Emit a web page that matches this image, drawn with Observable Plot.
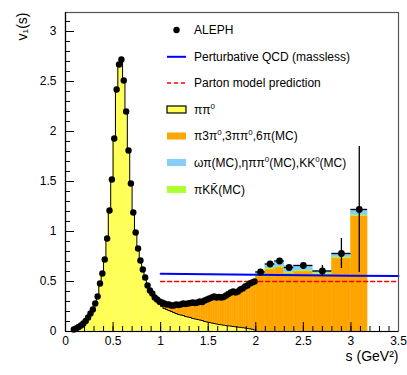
<!DOCTYPE html>
<html>
<head>
<meta charset="utf-8">
<script src="https://cdn.jsdelivr.net/npm/d3@7"></script>
<script src="https://cdn.jsdelivr.net/npm/@observablehq/plot@0.6"></script>
<style>
html,body{margin:0;padding:0;background:#fff;}
#chart svg{display:block;}
</style>
</head>
<body>
<div id="chart"></div>
<script>
// ---------- data ----------
const binWidth = 0.025;

// ALEPH fine-binned points (bin centres, v1)
const alephS = [0.0875,0.1125,0.1375,0.1625,0.1875,0.2125,0.2375,0.2625,0.2875,0.3125,0.3375,0.3625,0.3875,0.4125,0.4375,0.4625,0.4875,0.5125,0.5375,0.5625,0.5875,0.6125,0.6375,0.6625,0.6875,0.7125,0.7375,0.7625,0.7875,0.8125,0.8375,0.8625,0.8875,0.9125,0.9375,0.9625,0.9875,
1.0125,1.0375,1.0625,1.0875,1.1125,1.1375,1.1625,1.1875,1.2125,1.2375,1.2625,1.2875,1.3125,1.3375,1.3625,1.3875,1.4125,1.4375,1.4625,1.4875,1.5125,1.5375,1.5625,1.5875,1.6125,1.6375,1.6625,1.6875,1.7125,1.7375,1.7625,1.7875,1.8125,1.8375,1.8625,1.8875,1.9125,1.9375,1.9625,1.9875];
const alephV = [0.02,0.03,0.045,0.06,0.08,0.105,0.14,0.18,0.22,0.28,0.35,0.48,0.58,0.72,0.93,1.21,1.52,1.93,2.42,2.67,2.72,2.51,2.20,1.81,1.48,1.19,0.99,0.83,0.71,0.62,0.54,0.46,0.41,0.38,0.34,0.32,0.30,
0.29,0.28,0.27,0.27,0.26,0.26,0.27,0.265,0.27,0.28,0.275,0.28,0.285,0.29,0.285,0.29,0.30,0.295,0.31,0.32,0.33,0.34,0.35,0.34,0.345,0.34,0.345,0.36,0.375,0.39,0.40,0.39,0.40,0.42,0.43,0.45,0.46,0.48,0.49,0.50];

// pi pi0 histogram on the same fine bins
const pipiV = [0.02,0.03,0.045,0.06,0.08,0.105,0.14,0.18,0.22,0.28,0.35,0.48,0.58,0.72,0.93,1.21,1.52,1.93,2.42,2.67,2.72,2.51,2.20,1.81,1.48,1.19,0.99,0.83,0.71,0.62,0.54,0.46,0.41,0.36,0.33,0.30,0.27,
0.25,0.23,0.22,0.21,0.20,0.19,0.18,0.17,0.165,0.16,0.15,0.145,0.14,0.13,0.125,0.12,0.115,0.11,0.10,0.095,0.09,0.085,0.08,0.075,0.07,0.067,0.063,0.06,0.057,0.054,0.05,0.047,0.044,0.041,0.038,0.035,0.031,0.027,0.022,0.015];

// MC fine bins 0.9 - 2.0 GeV^2
const mcS = [0.9125,0.9375,0.9625,0.9875,1.0125,1.0375,1.0625,1.0875,1.1125,1.1375,1.1625,1.1875,1.2125,1.2375,1.2625,1.2875,1.3125,1.3375,1.3625,1.3875,1.4125,1.4375,1.4625,1.4875,1.5125,1.5375,1.5625,1.5875,1.6125,1.6375,1.6625,1.6875,1.7125,1.7375,1.7625,1.7875,1.8125,1.8375,1.8625,1.8875,1.9125,1.9375,1.9625,1.9875];
const mcOrange = [0.01,0.01,0.015,0.025,0.03,0.04,0.04,0.05,0.05,0.055,0.075,0.08,0.09,0.105,0.11,0.118,0.128,0.143,0.143,0.15,0.165,0.165,0.19,0.205,0.212,0.227,0.242,0.237,0.245,0.243,0.252,0.27,0.286,0.304,0.318,0.308,0.321,0.344,0.357,0.377,0.391,0.413,0.428,0.445];
const mcGreen = [0,0,0,0,0,0,0,0,0,0,0,0,0,0,0,0,0,0,0,0,0,0,0,0,0.005,0.005,0.005,0.005,0.005,0.005,0.005,0.005,0.005,0.005,0.005,0.005,0.005,0.005,0.005,0.005,0.005,0.005,0.005,0.005];
const mcBlue = [0,0,0,0,0.005,0.005,0.005,0.005,0.005,0.01,0.01,0.01,0.01,0.01,0.01,0.012,0.012,0.012,0.012,0.015,0.015,0.015,0.015,0.015,0.018,0.018,0.018,0.018,0.02,0.02,0.02,0.02,0.022,0.022,0.022,0.025,0.025,0.025,0.025,0.028,0.028,0.03,0.03,0.03];

// coarse bins above 2 GeV^2
const coarseLo = [2.0, 2.1, 2.2, 2.3, 2.4, 2.6, 2.8, 3.0];
const coarseHi = [2.1, 2.2, 2.3, 2.4, 2.6, 2.8, 3.0, 3.175];
const coarseS = [2.05, 2.15, 2.25, 2.35, 2.5, 2.7, 2.9, 3.0875];
const coarseV = [0.595, 0.675, 0.705, 0.64, 0.66, 0.605, 0.78, 1.22];
const coarseErr = [0.015, 0.02, 0.02, 0.02, 0.02, 0.055, 0.15, 0.63];
const coarseOrange = [0.56, 0.62, 0.64, 0.58, 0.60, 0.575, 0.735, 1.155];
const coarseGreen = [0.01, 0.01, 0.01, 0.01, 0.01, 0.01, 0.01, 0.01];
const coarseBlue = [0.025, 0.045, 0.055, 0.065, 0.05, 0.02, 0.035, 0.055];

// theory curves
const qcdS = [1.0, 1.5, 2.0, 2.5, 3.0, 3.5];
const qcdV = [0.578, 0.572, 0.567, 0.562, 0.558, 0.555];
const partonS = [1.0, 3.5];
const partonV = [0.5, 0.5];

// axes
const xMajor = [0, 0.5, 1, 1.5, 2, 2.5, 3, 3.5];
const xLabels = ["0", "0.5", "1", "1.5", "2", "2.5", "3", "3.5"];
const yMajor = [0, 0.5, 1, 1.5, 2, 2.5, 3];
const yLabels = ["0", "0.5", "1", "1.5", "2", "2.5", "3"];

// series / legend
const seriesKeys = ["pipi", "orange", "green", "blue"];
const seriesColors = ["#ffff55", "#ffa500", "#adff2f", "#87cefa"];
const legendLabels = ["ALEPH", "Perturbative QCD (massless)", "Parton model prediction", "ππ^0", "π3π^0,3ππ^0,6π(MC)", "ωπ(MC),ηππ^0(MC),KK^0(MC)", "πKK\u0304(MC)"];
const legendKinds = ["dot", "line", "dash", "box", "fill", "fill", "fill"];
const legendColors = ["#000", "#0000ff", "#ff0000", "#ffff55", "#ffa500", "#87cefa", "#adff2f"];

// ---------- build tables ----------
const W = 407, H = 375;
const M = {top: 12, right: 9, bottom: 44, left: 65};
const plotW = W - M.left - M.right, plotH = H - M.top - M.bottom;
const FONT = "'Liberation Sans', Arial, Helvetica, sans-serif";

const hist = [];
alephS.forEach((s, i) => hist.push({x1: s - binWidth / 2, x2: s + binWidth / 2, v: pipiV[i], series: "pipi"}));
const addMC = (fine, coarse, key) => {
  mcS.forEach((s, i) => hist.push({x1: s - binWidth / 2, x2: s + binWidth / 2, v: fine[i], series: key}));
  coarseLo.forEach((lo, i) => hist.push({x1: lo, x2: coarseHi[i], v: coarse[i], series: key}));
};
addMC(mcOrange, coarseOrange, "orange");
addMC(mcGreen, coarseGreen, "green");
addMC(mcBlue, coarseBlue, "blue");

const outline = [{x: alephS[0] - binWidth / 2, y: 0}];
alephS.forEach((s, i) => outline.push({x: s - binWidth / 2, y: pipiV[i]}));
const lastEdge = alephS[alephS.length - 1] + binWidth / 2;
outline.push({x: lastEdge, y: pipiV[pipiV.length - 1]}, {x: lastEdge, y: 0});

const dense = alephS.map((s, i) => ({s, v: alephV[i]}));
const coarse = coarseS.map((s, i) => ({s, v: coarseV[i], e: coarseErr[i], lo: coarseLo[i], hi: coarseHi[i]}));
const qcd = qcdS.map((s, i) => ({s, v: qcdV[i]}));
const parton = partonS.map((s, i) => ({s, v: partonV[i]}));

const xMinor = d3.range(0, 3.51, 0.1);
const yMinor = d3.range(0, 3.15, 0.1);

const chart = Plot.plot({
  width: W, height: H,
  marginTop: M.top, marginRight: M.right, marginBottom: M.bottom, marginLeft: M.left,
  style: {fontFamily: FONT, fontSize: "12px", background: "#fff", color: "#000"},
  x: {domain: [0, 3.5]},
  y: {domain: [0, 3.19]},
  color: {domain: seriesKeys, range: seriesColors},
  marks: [
    Plot.rectY(hist, {x1: "x1", x2: "x2", y: "v", fill: "series", stroke: "series", strokeWidth: 0.4}),
    Plot.line(outline, {x: "x", y: "y", curve: "step-after", stroke: "#000", strokeWidth: 1}),
    Plot.line(qcd, {x: "s", y: "v", stroke: "#0000ff", strokeWidth: 2}),
    Plot.line(parton, {x: "s", y: "v", stroke: "#ff0000", strokeWidth: 1.5, strokeDasharray: "4,3"}),
    Plot.ruleX(coarse, {x: "s", y1: d => d.v - d.e, y2: d => d.v + d.e, stroke: "#000", strokeWidth: 1.3}),
    Plot.ruleY(coarse, {y: "v", x1: "lo", x2: "hi", stroke: "#000", strokeWidth: 1.3}),
    Plot.dot(dense, {x: "s", y: "v", r: 3.2, fill: "#000"}),
    Plot.dot(coarse, {x: "s", y: "v", r: 3.4, fill: "#000"}),
    Plot.ruleX(xMinor, {insetTop: plotH - 5, stroke: "#000"}),
    Plot.ruleX(xMajor, {insetTop: plotH - 9, stroke: "#000"}),
    Plot.ruleY(yMinor, {insetRight: plotW - 5, stroke: "#000"}),
    Plot.ruleY(yMajor, {insetRight: plotW - 9, stroke: "#000"}),
    Plot.frame({stroke: "#555", strokeWidth: 1.2}),
    Plot.ruleX([0], {stroke: "#000", strokeWidth: 1.2}),
    Plot.ruleY([0], {stroke: "#000", strokeWidth: 1.2}),
    Plot.axisX(xMajor, {tickSize: 0, tickPadding: 5, label: null, fontSize: 12, tickFormat: (d, i) => xLabels[i]}),
    Plot.axisY(yMajor, {tickSize: 0, tickPadding: 9, label: null, fontSize: 12, tickFormat: (d, i) => yLabels[i]}),
    Plot.text(["s (GeV²)"], {frameAnchor: "bottom-right", dy: 29, textAnchor: "end", fontSize: 14}),
    Plot.text(["v₁(s)"], {frameAnchor: "top-left", dx: -48, rotate: -90, textAnchor: "end", fontSize: 14})
  ]
});
document.getElementById("chart").appendChild(chart);

// ---------- legend (inside the frame, no border) ----------
const legendY = [30, 56.8, 83, 109.5, 136, 162.5, 189.5];
const svg = d3.select(chart);
const g = svg.append("g").attr("font-family", FONT).attr("font-size", 12).attr("fill", "#000").attr("text-anchor", "start");
legendLabels.forEach((lab, i) => {
  const cy = legendY[i], kind = legendKinds[i], col = legendColors[i];
  if (kind === "dot") {
    g.append("circle").attr("cx", 176.5).attr("cy", cy).attr("r", 3.2).attr("fill", "#000");
  } else if (kind === "line" || kind === "dash") {
    g.append("line").attr("x1", 167).attr("x2", 186).attr("y1", cy).attr("y2", cy)
      .attr("stroke", col).attr("stroke-width", kind === "line" ? 2 : 1.5)
      .attr("stroke-dasharray", kind === "dash" ? "4,3" : null);
  } else {
    g.append("rect").attr("x", 167).attr("y", cy - 3.5).attr("width", 19).attr("height", 7)
      .attr("fill", col).attr("stroke", kind === "box" ? "#000" : "none").attr("stroke-width", 1.2);
  }
  const t = g.append("text").attr("x", 194).attr("y", cy + 4.3).attr("text-anchor", "start");
  const parts = lab.split(/\^(\d)/);
  let raised = false;
  parts.forEach((p, j) => {
    if (p === "") return;
    if (j % 2 === 1) {
      t.append("tspan").attr("dy", -5).attr("font-size", 8).text(p);
      raised = true;
    } else {
      const ts = t.append("tspan").text(p);
      if (raised) { ts.attr("dy", 5); raised = false; }
    }
  });
});
</script>
</body>
</html>
